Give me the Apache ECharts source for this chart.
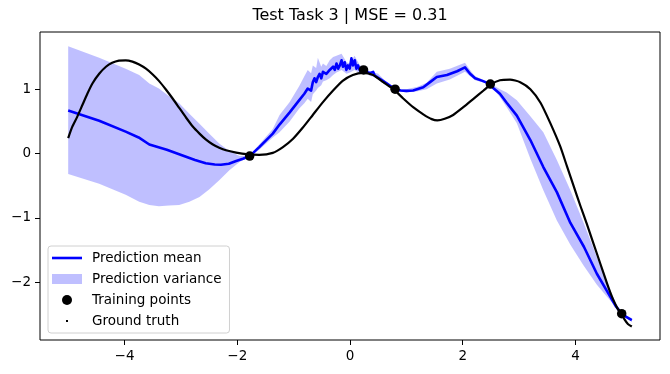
<!DOCTYPE html>
<html><head><meta charset="utf-8">
<script src="https://cdn.jsdelivr.net/npm/echarts@6/dist/echarts.min.js"></script>
<style>html,body{margin:0;padding:0;background:#fff}#c{width:670px;height:374px}</style>
</head><body><div id="c"></div>
<script>
const titleText = 'Test Task 3 | MSE = 0.31';
const xTicks = [-4, -2, 0, 2, 4];
const yTicks = [-2, -1, 0, 1];

const truthX = [-5.0,-4.93,-4.84,-4.75,-4.66,-4.57,-4.45,-4.33,-4.22,-4.10,-3.98,-3.86,-3.74,-3.62,-3.50,-3.39,-3.27,-3.15,-3.03,-2.91,-2.79,-2.67,-2.56,-2.44,-2.32,-2.20,-2.02,-1.84,-1.61,-1.37,-1.19,-1.01,-0.84,-0.66,-0.48,-0.30,-0.13,0.05,0.23,0.41,0.59,0.77,0.94,1.12,1.30,1.45,1.55,1.68,1.83,2.01,2.19,2.37,2.49,2.66,2.84,3.02,3.20,3.38,3.55,3.73,3.85,3.97,4.09,4.20,4.32,4.44,4.56,4.64,4.74,4.82,4.87,4.93,5.0];
const truthY = [0.24,0.41,0.57,0.75,0.93,1.09,1.24,1.35,1.41,1.445,1.45,1.43,1.385,1.32,1.23,1.13,1.00,0.86,0.71,0.56,0.42,0.31,0.22,0.145,0.09,0.05,0.015,-0.01,-0.02,0.01,0.10,0.23,0.40,0.60,0.80,0.98,1.13,1.22,1.255,1.22,1.11,1.0,0.86,0.72,0.61,0.535,0.515,0.54,0.60,0.72,0.85,0.98,1.07,1.14,1.15,1.11,1.00,0.79,0.48,0.11,-0.20,-0.51,-0.82,-1.09,-1.40,-1.71,-2.02,-2.21,-2.40,-2.50,-2.58,-2.65,-2.69];

const meanX = [-5.0,-4.45,-3.98,-3.75,-3.56,-3.25,-2.97,-2.75,-2.56,-2.4,-2.29,-2.15,-2.02,-1.9,-1.78,-1.61,-1.37,-1.25,-1.07,-0.9,-0.81,-0.75,-0.72,-0.69,-0.66,-0.63,-0.6,-0.57,-0.54,-0.51,-0.48,-0.42,-0.36,-0.30,-0.27,-0.24,-0.21,-0.18,-0.15,-0.125,-0.094,-0.064,-0.036,-0.005,0.025,0.053,0.084,0.114,0.142,0.173,0.24,0.3,0.35,0.38,0.41,0.44,0.47,0.55,0.65,0.8,0.9,1.0,1.12,1.3,1.42,1.54,1.72,1.9,2.04,2.13,2.22,2.35,2.49,2.54,2.66,2.78,2.96,3.2,3.43,3.67,3.91,4.15,4.38,4.62,4.72,4.82,4.9,5.0];
const meanY = [0.67,0.51,0.34,0.25,0.14,0.06,-0.03,-0.10,-0.15,-0.17,-0.175,-0.16,-0.115,-0.08,-0.04,0.10,0.31,0.45,0.64,0.83,0.93,1.01,1.04,0.98,1.11,1.17,1.11,1.19,1.24,1.17,1.27,1.24,1.30,1.35,1.30,1.40,1.32,1.37,1.45,1.35,1.42,1.30,1.37,1.32,1.48,1.37,1.45,1.32,1.37,1.30,1.30,1.27,1.25,1.24,1.27,1.21,1.22,1.15,1.09,1.0,0.98,0.975,0.98,1.03,1.11,1.19,1.22,1.28,1.34,1.24,1.17,1.13,1.08,1.02,0.93,0.79,0.59,0.21,-0.21,-0.60,-1.08,-1.45,-1.87,-2.23,-2.38,-2.49,-2.54,-2.59];

const bandX = [-5.0,-4.45,-3.98,-3.74,-3.56,-3.39,-3.21,-3.03,-2.85,-2.67,-2.5,-2.32,-2.14,-1.96,-1.78,-1.61,-1.37,-1.25,-1.07,-0.9,-0.81,-0.75,-0.69,-0.66,-0.6,-0.57,-0.51,-0.48,-0.42,-0.36,-0.30,-0.24,-0.15,-0.06,0.0,0.08,0.17,0.24,0.35,0.5,0.65,0.8,1.0,1.2,1.36,1.54,1.77,2.04,2.13,2.22,2.35,2.49,2.66,2.78,2.96,3.2,3.43,3.67,3.91,4.15,4.38,4.62,4.72,4.82,5.0];
const bandLo = [-0.32,-0.47,-0.64,-0.75,-0.80,-0.82,-0.81,-0.80,-0.75,-0.675,-0.56,-0.415,-0.26,-0.13,-0.05,0.06,0.25,0.33,0.50,0.70,0.78,0.85,0.80,0.92,0.98,1.02,1.06,1.12,1.14,1.17,1.22,1.26,1.30,1.24,1.26,1.30,1.25,1.27,1.21,1.17,1.06,0.98,0.95,0.97,1.0,1.09,1.15,1.27,1.20,1.14,1.11,1.07,0.88,0.72,0.47,-0.08,-0.57,-1.04,-1.42,-1.75,-2.04,-2.29,-2.40,-2.50,-2.62];
const bandHi = [1.67,1.49,1.32,1.22,1.09,1.01,0.89,0.78,0.62,0.465,0.31,0.155,0.04,-0.04,-0.03,0.14,0.38,0.60,0.80,1.05,1.20,1.30,1.25,1.37,1.33,1.49,1.35,1.40,1.36,1.45,1.50,1.52,1.55,1.42,1.40,1.52,1.38,1.33,1.28,1.24,1.11,1.01,1.0,1.04,1.10,1.27,1.32,1.41,1.30,1.20,1.15,1.09,1.0,0.95,0.83,0.58,0.33,-0.10,-0.57,-1.09,-1.61,-2.13,-2.33,-2.48,-2.56];

const trainX = [-1.78, 0.24, 0.80, 2.49, 4.82];
const trainY = [-0.04, 1.30, 1.00, 1.08, -2.49];

const zip = (a, b) => a.map((v, i) => [v, b[i]]);
const FONT = 'DejaVu Sans';
const BAND = 'rgba(0,0,255,0.25)';
const fmt = v => String(v).replace('-', '\u2212');

const chart = echarts.init(document.getElementById('c'), null, {renderer: 'canvas'});
chart.setOption({
  animation: false,
  backgroundColor: '#ffffff',
  title: {
    text: titleText, left: 350, top: 8, textAlign: 'center', padding: 0,
    textStyle: {fontFamily: FONT, fontSize: 16, fontWeight: 'normal', color: '#000'}
  },
  grid: {left: 40, right: 10, top: 32, bottom: 34, show: true, borderColor: '#000', borderWidth: 1, backgroundColor: 'transparent'},
  xAxis: {
    type: 'value', min: -5.5, max: 5.5,
    axisLine: {show: false, onZero: false}, splitLine: {show: false},
    axisTick: {show: true, length: 5, customValues: xTicks, lineStyle: {color: '#000', width: 1}},
    axisLabel: {customValues: xTicks, margin: 9, formatter: fmt, fontFamily: FONT, fontSize: 13.5, color: '#000'}
  },
  yAxis: {
    type: 'value', min: -2.9, max: 1.89,
    axisLine: {show: false, onZero: false}, splitLine: {show: false},
    axisTick: {show: true, length: 5, customValues: yTicks, lineStyle: {color: '#000', width: 1}},
    axisLabel: {customValues: yTicks, margin: 9, formatter: fmt, fontFamily: FONT, fontSize: 13.5, color: '#000'}
  },
  legend: {
    orient: 'vertical', left: 48, top: 246, selectedMode: false,
    padding: [5, 8, 5, 4], itemWidth: 30, itemHeight: 10, itemGap: 7,
    borderColor: '#d0d0d0', borderWidth: 1, borderRadius: 3, backgroundColor: 'rgba(255,255,255,0.8)',
    textStyle: {fontFamily: FONT, fontSize: 13.5, color: '#000', lineHeight: 14, padding: [0, 0, 0, 5]},
    data: [
      {name: 'Prediction mean', icon: 'path://M0,0M30,10M0,3.7H30V6.3H0Z', itemStyle: {color: '#0000ff'}},
      {name: 'Prediction variance', icon: 'rect', itemStyle: {color: BAND, borderWidth: 0}},
      {name: 'Training points', icon: 'circle', itemStyle: {color: '#000', opacity: 1}},
      {name: 'Ground truth', icon: 'path://M0,0M30,10M14,4H16V6H14Z', itemStyle: {color: '#000'}}
    ]
  },
  series: [
    {
      name: 'Prediction variance', type: 'custom', z: 1, silent: true,
      itemStyle: {color: BAND},
      data: bandX.map((x, i) => [x, bandLo[i], bandHi[i]]),
      encode: {x: 0, y: [1, 2]},
      renderItem: function (params, api) {
        if (params.dataIndex !== 0) return null;
        const pts = [];
        for (let i = 0; i < bandX.length; i++) pts.push(api.coord([bandX[i], bandHi[i]]));
        for (let i = bandX.length - 1; i >= 0; i--) pts.push(api.coord([bandX[i], bandLo[i]]));
        return {type: 'polygon', shape: {points: pts}, style: {fill: BAND, stroke: null}};
      }
    },
    {
      name: 'Prediction mean', type: 'line', z: 3, symbol: 'none', silent: true,
      data: zip(meanX, meanY),
      lineStyle: {color: '#0000ff', width: 2.6, join: 'round'},
      itemStyle: {color: '#0000ff'}
    },
    {
      name: 'Ground truth', type: 'line', z: 4, symbol: 'none', silent: true, smooth: 0.2,
      data: zip(truthX, truthY),
      lineStyle: {color: '#000', width: 2.2, join: 'round'},
      itemStyle: {color: '#000'}
    },
    {
      name: 'Training points', type: 'scatter', z: 5, symbolSize: 9.5, silent: true,
      data: zip(trainX, trainY),
      itemStyle: {color: '#000', opacity: 1}
    }
  ]
});
</script>
</body></html>
